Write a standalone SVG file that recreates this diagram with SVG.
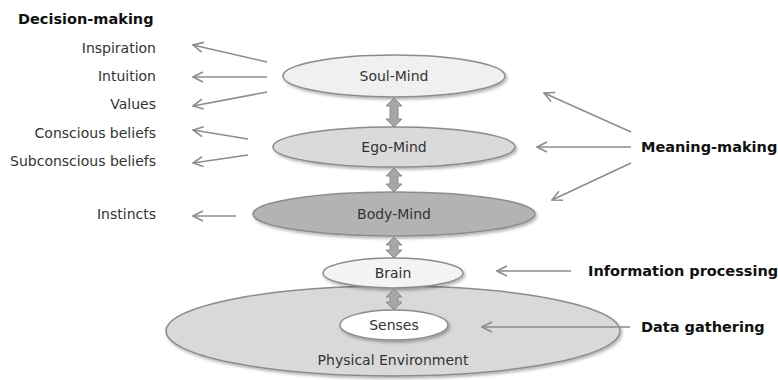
<svg xmlns="http://www.w3.org/2000/svg" width="778" height="380" viewBox="0 0 778 380">
<defs>
<marker id="ah" viewBox="0 0 12 12" refX="11" refY="6" markerWidth="12" markerHeight="12" markerUnits="userSpaceOnUse" orient="auto">
<path d="M1,1 L11,6 L1,11" fill="none" stroke="#8c8c8c" stroke-width="1.6"/>
</marker>
<filter id="sh" x="-10%" y="-20%" width="120%" height="150%">
<feDropShadow dx="1.5" dy="2" stdDeviation="1.5" flood-color="#000" flood-opacity="0.3"/>
</filter>
</defs>
<style>
text{font-family:"DejaVu Sans",Verdana,sans-serif;font-size:14px;fill:#333}
.b{font-weight:bold;fill:#111;font-size:14.5px}
.l{text-anchor:end}
.c{text-anchor:middle}
.e{stroke:#8c8c8c;stroke-width:1.5;filter:url(#sh)}
.conn line{stroke:#8c8c8c;stroke-width:1.6;fill:none}
.da{fill:#a6a6a6;stroke:#8c8c8c;stroke-width:1}
</style>
<rect width="778" height="380" fill="#fff"/>

<g id="physical-environment">
<ellipse class="e" cx="393" cy="331" rx="227" ry="45" fill="#d9d9d9"/>
<text class="c" x="393" y="365">Physical Environment</text>
</g>
<g id="senses">
<ellipse class="e" cx="394" cy="325" rx="54" ry="15" fill="#fff"/>
<text class="c" x="394" y="330">Senses</text>
</g>
<g id="brain">
<ellipse class="e" cx="393" cy="273" rx="70" ry="15" fill="#f4f4f4"/>
<text class="c" x="393" y="278">Brain</text>
</g>
<g id="body-mind">
<ellipse class="e" cx="394" cy="214" rx="141" ry="22" fill="#b3b3b3"/>
<text class="c" x="394" y="219">Body-Mind</text>
</g>
<g id="ego-mind">
<ellipse class="e" cx="394" cy="147" rx="121" ry="20" fill="#dadada"/>
<text class="c" x="394" y="152">Ego-Mind</text>
</g>
<g id="soul-mind">
<ellipse class="e" cx="394" cy="76" rx="111" ry="21" fill="#f0f0f0"/>
<text class="c" x="394" y="81">Soul-Mind</text>
</g>

<g id="labels">
<text class="b" x="18" y="24">Decision-making</text>
<text class="l" x="156" y="53">Inspiration</text>
<text class="l" x="156" y="81">Intuition</text>
<text class="l" x="156" y="109">Values</text>
<text class="l" x="156" y="138">Conscious beliefs</text>
<text class="l" x="156" y="166">Subconscious beliefs</text>
<text class="l" x="156" y="219">Instincts</text>
<text class="b" x="641" y="152">Meaning-making</text>
<text class="b" x="588" y="276">Information processing</text>
<text class="b" x="641" y="332">Data gathering</text>
</g>

<g id="connectors" class="conn">
<line x1="267" y1="62" x2="193" y2="45" marker-end="url(#ah)"/>
<line x1="267" y1="77" x2="193" y2="77" marker-end="url(#ah)"/>
<line x1="267" y1="92" x2="193" y2="106" marker-end="url(#ah)"/>
<line x1="248" y1="139" x2="193" y2="130" marker-end="url(#ah)"/>
<line x1="248" y1="155" x2="193" y2="163" marker-end="url(#ah)"/>
<line x1="236" y1="216" x2="193" y2="216" marker-end="url(#ah)"/>
<line x1="631" y1="132" x2="544" y2="93" marker-end="url(#ah)"/>
<line x1="631" y1="147" x2="537" y2="147" marker-end="url(#ah)"/>
<line x1="631" y1="163" x2="552" y2="200" marker-end="url(#ah)"/>
<line x1="571" y1="271" x2="497" y2="271" marker-end="url(#ah)"/>
<line x1="630" y1="327" x2="482" y2="327" marker-end="url(#ah)"/>
<path class="da" d="M394,98 L402,106 L398,106 L398,119 L402,119 L394,127 L386,119 L390,119 L390,106 L386,106 Z"/>
<path class="da" d="M394,168 L402,176 L398,176 L398,184 L402,184 L394,192 L386,184 L390,184 L390,176 L386,176 Z"/>
<path class="da" d="M394,237 L402,245 L398,245 L398,250 L402,250 L394,258 L386,250 L390,250 L390,245 L386,245 Z"/>
<path class="da" d="M394,289 L402,297 L398,297 L398,302 L402,302 L394,310 L386,302 L390,302 L390,297 L386,297 Z"/>
</g>
</svg>
